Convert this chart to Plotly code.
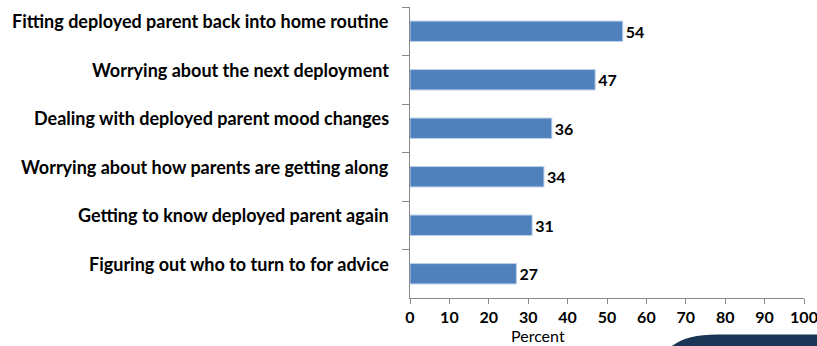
import plotly.graph_objects as go

categories = [
    "Fitting deployed parent back into home routine",
    "Worrying about the next deployment",
    "Dealing with deployed parent mood changes",
    "Worrying about how parents are getting along",
    "Getting to know deployed parent again",
    "Figuring out who to turn to for advice",
]
values = [54, 47, 36, 34, 31, 27]
x_ticks = [0, 10, 20, 30, 40, 50, 60, 70, 80, 90, 100]
x_title = "Percent"

fig = go.Figure()
fig.add_trace(go.Bar(
    x=values,
    y=categories,
    orientation="h",
    marker=dict(color="#4F81BD", line=dict(color="#BBD0EA", width=1)),
    text=[str(v) for v in values],
    textposition="outside",
    textfont=dict(family="Lato", size=16, color="black", weight="bold"),
    cliponaxis=False,
    width=0.42,
))

fig.update_layout(
    width=817, height=346,
    margin=dict(l=410, r=13, t=7, b=48, autoexpand=False),
    paper_bgcolor="white", plot_bgcolor="white",
    showlegend=False,
    font=dict(family="Lato", color="black"),
)
fig.update_xaxes(
    range=[0, 100],
    tickvals=x_ticks,
    automargin=False,
    showgrid=False, zeroline=False,
    showline=True, linecolor="#888888", linewidth=1,
    ticks="outside", ticklen=5, tickcolor="#888888",
    ticklabeloverflow="allow",
    tickfont=dict(family="Lato", size=16, color="black", weight="bold"),
)
fig.update_yaxes(
    autorange="reversed",
    automargin=False,
    showgrid=False,
    showline=True, linecolor="#888888", linewidth=1,
    ticks="outside", ticklen=7, tickcolor="#888888",
    tickson="boundaries",
    showticklabels=False,
)
for c in categories:
    fig.add_annotation(
        text=c, xref="paper", yref="y", x=0, y=c,
        xshift=-19, yshift=10, showarrow=False,
        xanchor="right", yanchor="middle",
        font=dict(family="Lato", size=18, color="black", weight="bold"),
    )
fig.add_annotation(
    text=x_title, xref="paper", yref="paper", x=(538 - 410) / (803.7 - 410), y=0,
    yshift=-37, showarrow=False, xanchor="center", yanchor="middle",
    font=dict(family="Lato", size=16, color="black"),
)
# decorative logo fragment at bottom-right
fig.add_shape(
    type="path", xref="paper", yref="paper", layer="below",
    path="M 0.64,-0.2 C 0.67,-0.145 0.71,-0.125 0.78,-0.125 L 1.04,-0.125 L 1.04,-0.2 Z",
    fillcolor="#1b3556", line=dict(width=0),
)
fig.write_html("out.html")
